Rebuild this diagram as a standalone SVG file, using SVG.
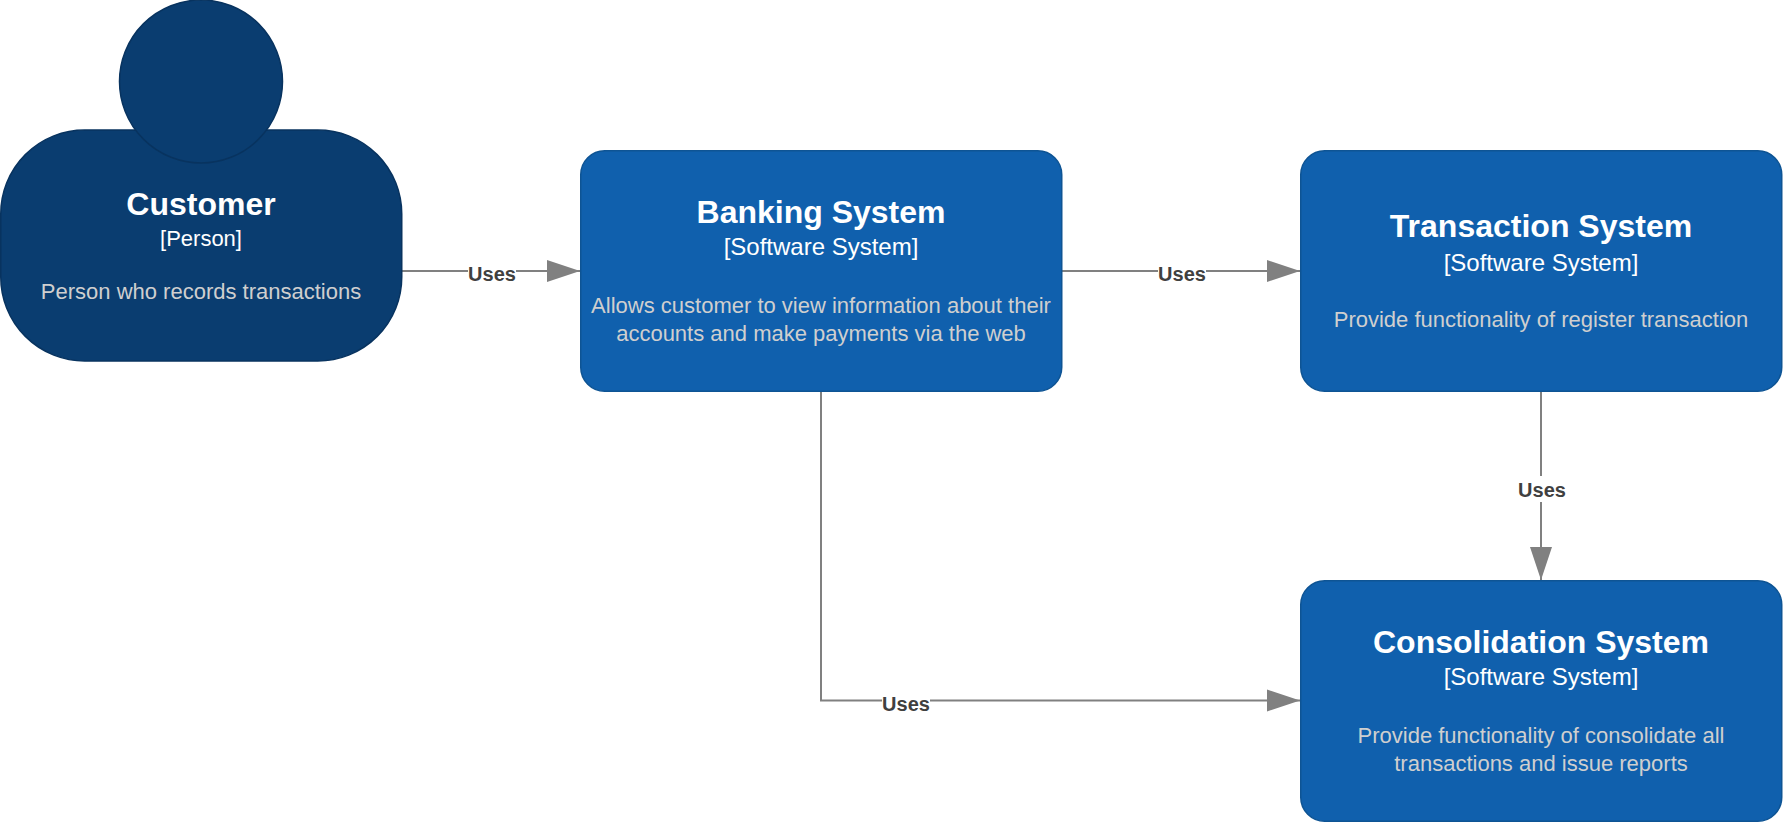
<svg xmlns="http://www.w3.org/2000/svg" width="1784" height="822" viewBox="0 0 1784 822">
<style>
text{font-family:"Liberation Sans",Arial,sans-serif;text-anchor:middle}
.t{font-size:32px;font-weight:700;fill:#fff}
.s{font-size:24px;fill:#fff}
.p{font-size:22px;fill:#fff}
.d{font-size:22px;fill:#cfcfcf}
.box{fill:#1060ad;stroke:#0e5494;stroke-width:1.5}
.person{fill:#0a3d70;stroke:#08335f;stroke-width:1.5}
.c{fill:none;stroke:#808080;stroke-width:2}
.l{font-size:20px;font-weight:700;fill:#404040}
.bg{fill:#fff}
</style>
<defs>
<marker id="arrow" markerUnits="userSpaceOnUse" markerWidth="34" markerHeight="24" refX="33" refY="12" orient="auto"><path d="M0 1L33 12L0 23Z" fill="#808080"/></marker>
</defs>
<g id="connectors">
<path class="c" marker-end="url(#arrow)" d="M402 271H580"/>
<path class="c" marker-end="url(#arrow)" d="M1062 271H1300"/>
<path class="c" marker-end="url(#arrow)" d="M1541 391V580"/>
<path class="c" marker-end="url(#arrow)" d="M821 391V700.500H1300"/>
<rect class="bg" x="468" y="262" width="48" height="22"/>
<rect class="bg" x="1158" y="262" width="48" height="22"/>
<rect class="bg" x="882" y="692" width="48" height="22"/>
<text class="l" x="492" y="281">Uses</text>
<text class="l" x="1182" y="281">Uses</text>
<rect class="bg" x="1515" y="476" width="54" height="26"/>
<text class="l" x="1542" y="497">Uses</text>
<text class="l" x="906" y="711">Uses</text>
</g>
<g id="customer">
<rect class="person" x="0.750" y="130" width="401" height="231" rx="84" ry="84"/>
<circle class="person" cx="201" cy="81.500" r="81.500"/>
<text class="t" x="201" y="215">Customer</text>
<text class="p" x="201" y="246">[Person]</text>
<text class="d" x="201" y="299">Person who records transactions</text>
</g>
<g id="banking-system">
<rect class="box" x="580.750" y="150.750" width="481" height="240.500" rx="24"/>
<text class="t" x="821" y="223">Banking System</text>
<text class="s" x="821" y="255">[Software System]</text>
<text class="d" x="821" y="313">Allows customer to view information about their</text>
<text class="d" x="821" y="341">accounts and make payments via the web</text>
</g>
<g id="transaction-system">
<rect class="box" x="1300.750" y="150.750" width="481" height="240.500" rx="24"/>
<text class="t" x="1541" y="237">Transaction System</text>
<text class="s" x="1541" y="271">[Software System]</text>
<text class="d" x="1541" y="327">Provide functionality of register transaction</text>
</g>
<g id="consolidation-system">
<rect class="box" x="1300.750" y="580.750" width="481" height="240.500" rx="24"/>
<text class="t" x="1541" y="653">Consolidation System</text>
<text class="s" x="1541" y="685">[Software System]</text>
<text class="d" x="1541" y="743">Provide functionality of consolidate all</text>
<text class="d" x="1541" y="771">transactions and issue reports</text>
</g>
</svg>
